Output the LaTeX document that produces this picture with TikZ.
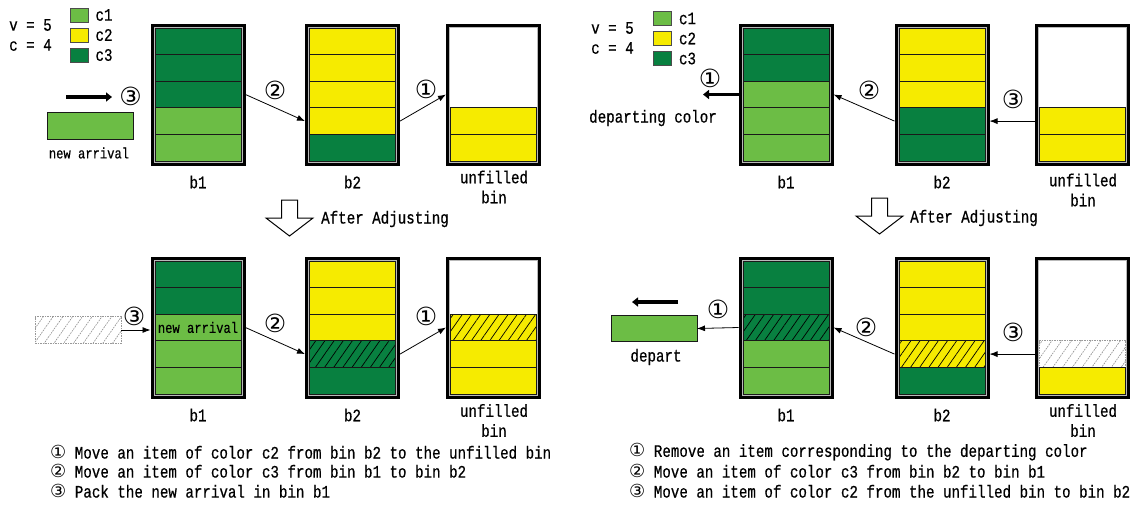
\documentclass[tikz,border=0pt]{standalone}
\usepackage{fontspec}
\newfontfamily\monofont[FakeStretch=0.81,FakeBold=0.5]{Liberation Mono}
\newfontfamily\circfont{DejaVu Sans}
\usetikzlibrary{positioning,fit,arrows.meta,patterns.meta}

\definecolor{cone}{RGB}{108,189,69}
\definecolor{ctwo}{RGB}{246,235,0}
\definecolor{cthree}{RGB}{8,128,64}

\newcommand{\Ring}[1]{{\circfont\fontsize{18pt}{18pt}\selectfont #1}}

\tikzset{
  item/.style={minimum width=86pt, minimum height=26.6pt, inner sep=0pt, outer sep=0pt, draw=black!90, line width=0.7pt},
  ione/.style={fill=cone},
  itwo/.style={fill=ctwo},
  ithree/.style={fill=cthree},
  itwoh/.style={preaction={fill=ctwo}, pattern={Lines[angle=55,distance=7.5pt,line width=0.7pt]}, pattern color=black},
  ithreeh/.style={preaction={fill=cthree}, pattern={Lines[angle=55,distance=7.5pt,line width=0.7pt]}, pattern color=black},
  ighost/.style={draw=gray!80, dash pattern=on 1.5pt off 1pt, preaction={fill=white}, pattern={Lines[angle=55,distance=8pt,line width=0.6pt]}, pattern color=gray!90},
  iempty/.style={draw=none},
  binframe/.style={draw=black, line width=3pt, inner sep=3pt},
  binline/.style={draw=gray!55, line width=0.8pt, inner sep=1pt},
  key/.style={draw=black!70, line width=0.6pt, minimum width=18pt, minimum height=14pt, inner sep=0pt},
  lbl/.style={font=\monofont\fontsize{17.5pt}{20pt}\selectfont, inner sep=1pt},
  lblsmall/.style={font=\monofont\fontsize{15pt}{17pt}\selectfont, inner sep=1pt},
  num/.style={font=\circfont\fontsize{25pt}{25pt}\selectfont, inner sep=0pt},
  move/.style={line width=0.8pt, -{Latex[length=8pt,width=6pt]}},
  fatarrow/.style={line width=3.2pt, -{Triangle[length=6pt,width=9pt]}},
}

% one bin: name, centre x, top y, row styles from top to bottom
\newcommand{\Bin}[4]{
    \foreach \s [count=\i] in {#4}
        \node[item,\s] (#1-\i) at (#2,{#3+(\i-0.5)*26.6}) {};
    \node[binline, fit=(#1-1)(#1-5)] {};
    \node[binframe, fit=(#1-1)(#1-5)] (#1) {};
}

% hollow arrow: centre x, top y
\newcommand{\Adjust}[2]{
    \draw[fill=white, line width=1pt] (#1-8,#2) -- (#1+8,#2) -- (#1+8,#2+18) -- (#1+23.5,#2+18)
        -- (#1,#2+36) -- (#1-23.5,#2+18) -- (#1-8,#2+18) -- cycle;
}

\begin{document}
\begin{tikzpicture}[x=1pt,y=-1pt]
    \useasboundingbox[fill=white] (0,0) rectangle (1138,504);

    % arrival, before
    \node[lbl, anchor=west] (lv) at (8,25) {v = 5};
    \node[lbl, anchor=west] (lc) at (8,45) {c = 4};
    \node[key, fill=cone] (lk1) at (79,15) {};
    \node[key, fill=ctwo] (lk2) at (79,35) {};
    \node[key, fill=cthree] (lk3) at (79,55) {};
    \node[lbl, right=6pt of lk1] (lk1name) {c1};
    \node[lbl, right=6pt of lk2] (lk2name) {c2};
    \node[lbl, right=6pt of lk3] (lk3name) {c3};
    \Bin{lb1}{198}{28}{ithree,ithree,ithree,ione,ione}
    \Bin{lb2}{352.5}{28}{itwo,itwo,itwo,itwo,ithree}
    \Bin{lub}{493.5}{28}{iempty,iempty,iempty,itwo,itwo}
    \node[item, ione] (arrive) at (90,126) {};
    \node[lblsmall] (arrivename) at (89,153) {new arrival};
    \coordinate (lfatA) at (66,97);
    \coordinate (lfatB) at (112,97);
    \draw[fatarrow] (lfatA) -- (lfatB);
    \node[num] (la3) at (130.5,96) {③};
    \draw[move] (lb1.east |- lb1-3) -- (lb2.west |- lb2-4);
    \node[num] (la2) at (275,90) {②};
    \draw[move] (lb2.east |- lb2-4) -- (lub.west |- lub-3);
    \node[num] (la1) at (426,89) {①};
    \node[lbl] (lb1name) at (198,182) {b1};
    \node[lbl] (lb2name) at (352.5,182) {b2};
    \node[lbl, align=center] (lubname) at (494,187) {unfilled\\bin};
    \Adjust{289.5}{200}
    \node[lbl, anchor=west] (ladjust) at (320,219) {After Adjusting};

    % arrival, after
    \Bin{ab1}{198}{261}{ithree,ithree,ione,ione,ione}
    \Bin{ab2}{352.5}{261}{itwo,itwo,itwo,ithreeh,ithree}
    \Bin{aub}{493.5}{261}{iempty,iempty,itwoh,itwo,itwo}
    \node[lblsmall] (anew) at (ab1-3) {new arrival};
    \node[item, ighost] (ghostbox) at (78,330) {};
    \draw[move] (ghostbox.east) -- (ab1.west |- ghostbox.east);
    \node[num] (aa3) at (134,316) {③};
    \draw[move] (ab1.east |- ab1-3) -- (ab2.west |- ab2-4);
    \node[num] (aa2) at (275,323) {②};
    \draw[move] (ab2.east |- ab2-4) -- (aub.west |- aub-3);
    \node[num] (aa1) at (426,316) {①};
    \node[lbl] (ab1name) at (198,415) {b1};
    \node[lbl] (ab2name) at (352.5,415) {b2};
    \node[lbl, align=center] (aubname) at (494,420.5) {unfilled\\bin};
    \node[lbl, anchor=west] (acap1) at (49,452) {\Ring{①} Move an item of color c2 from bin b2 to the unfilled bin};
    \node[lbl, anchor=west] (acap2) at (49,471) {\Ring{②} Move an item of color c3 from bin b1 to bin b2};
    \node[lbl, anchor=west] (acap3) at (49,491) {\Ring{③} Pack the new arrival in bin b1};

    % departure, before
    \node[lbl, anchor=west] (rv) at (590,28) {v = 5};
    \node[lbl, anchor=west] (rc) at (590,48) {c = 4};
    \node[key, fill=cone] (rk1) at (662.5,18.5) {};
    \node[key, fill=ctwo] (rk2) at (662.5,38.5) {};
    \node[key, fill=cthree] (rk3) at (662.5,58.5) {};
    \node[lbl, right=6pt of rk1] (rk1name) {c1};
    \node[lbl, right=6pt of rk2] (rk2name) {c2};
    \node[lbl, right=6pt of rk3] (rk3name) {c3};
    \Bin{rb1}{786}{28}{ithree,ithree,ione,ione,ione}
    \Bin{rb2}{942}{28}{itwo,itwo,itwo,ithree,ithree}
    \Bin{rub}{1082.5}{28}{iempty,iempty,iempty,itwo,itwo}
    \coordinate (rfat) at (703,94.5);
    \draw[fatarrow] (rb1.west |- rb1-3) -- (rfat);
    \node[num] (ra1) at (710,78) {①};
    \node[lbl] (rdeparting) at (653,118) {departing color};
    \draw[move] (rb2.west |- rb2-4) -- (rb1.east |- rb1-3);
    \node[num] (ra2) at (869,90) {②};
    \draw[move] (rub.west |- rub-4) -- (rb2.east |- rb2-4);
    \node[num] (ra3) at (1013,99) {③};
    \node[lbl] (rb1name) at (786,182) {b1};
    \node[lbl] (rb2name) at (942,182) {b2};
    \node[lbl, align=center] (rubname) at (1083,190) {unfilled\\bin};
    \Adjust{879.5}{198}
    \node[lbl, anchor=west] (radjust) at (909,218) {After Adjusting};

    % departure, after
    \Bin{db1}{786}{261}{ithree,ithree,ithreeh,ione,ione}
    \Bin{db2}{942}{261}{itwo,itwo,itwo,itwoh,ithree}
    \Bin{dub}{1082.5}{261}{iempty,iempty,iempty,ighost,itwo}
    \node[item, ione] (depart) at (654,328.5) {};
    \node[lbl] (departname) at (656,357) {depart};
    \coordinate (dfatA) at (678,302);
    \coordinate (dfatB) at (632,302);
    \draw[fatarrow] (dfatA) -- (dfatB);
    \draw[move] (db1.west |- db1-3) -- (depart.east);
    \node[num] (da1) at (718,309) {①};
    \draw[move] (db2.west |- db2-4) -- (db1.east |- db1-3);
    \node[num] (da2) at (866,327) {②};
    \draw[move] (dub.west |- dub-4) -- (db2.east |- db2-4);
    \node[num] (da3) at (1013,332) {③};
    \node[lbl] (db1name) at (786,415) {b1};
    \node[lbl] (db2name) at (942,415) {b2};
    \node[lbl, align=center] (dubname) at (1083,420.5) {unfilled\\bin};
    \node[lbl, anchor=west] (dcap1) at (628,452) {\Ring{①} Remove an item corresponding to the departing color};
    \node[lbl, anchor=west] (dcap2) at (628,471) {\Ring{②} Move an item of color c3 from bin b2 to bin b1};
    \node[lbl, anchor=west] (dcap3) at (628,491) {\Ring{③} Move an item of color c2 from the unfilled bin to bin b2};
\end{tikzpicture}
\end{document}
